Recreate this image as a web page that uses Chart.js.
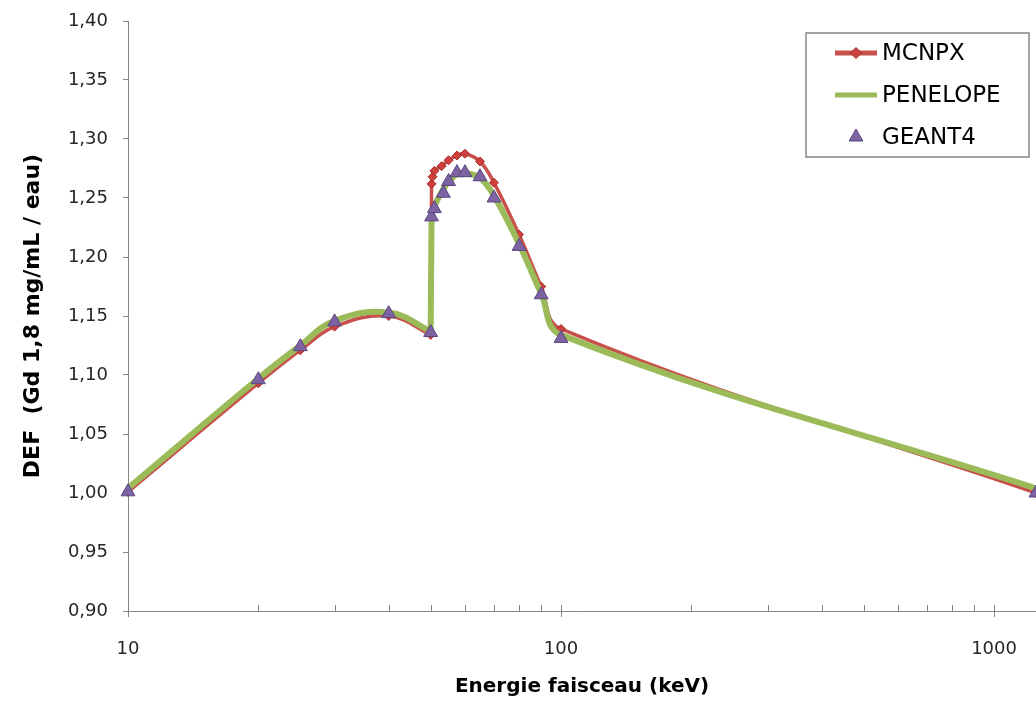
<!DOCTYPE html>
<html>
<head>
<meta charset="utf-8">
<script src="https://cdn.jsdelivr.net/npm/chart.js@4/dist/chart.umd.min.js"></script>
<style>
  html, body { margin: 0; padding: 0; background: #ffffff; }
  #wrap { width: 1036px; height: 701px; position: relative; }
</style>
</head>
<body>
<div id="wrap"><canvas id="c" width="1036" height="701"></canvas></div>
<script>
// ---- data ----
const mcnpxEnergy = [10, 20, 25, 30, 40, 50, 50.24, 50.5, 51, 53, 55, 57.5, 60, 65, 70, 80, 90, 100, 1250];
const mcnpxDEF    = [1.001, 1.093, 1.121, 1.141, 1.150, 1.134, 1.262, 1.268, 1.273, 1.277, 1.282, 1.286, 1.2875, 1.281, 1.263, 1.219, 1.175, 1.139, 1.000];

const penelopeEnergy = [10, 20, 25, 30, 40, 50, 50.24, 51, 53, 55, 57.5, 60, 65, 70, 80, 90, 100, 1250];
const penelopeDEF    = [1.004, 1.097, 1.125, 1.146, 1.153, 1.137, 1.234, 1.243, 1.255, 1.264, 1.270, 1.271, 1.267, 1.252, 1.211, 1.169, 1.134, 1.004];

const geant4Energy = [10, 20, 25, 30, 40, 50, 50.24, 51, 53.5, 55, 57.5, 60, 65, 70, 80, 90, 100, 1250];
const geant4DEF    = [1.001, 1.096, 1.124, 1.145, 1.152, 1.136, 1.234, 1.241, 1.254, 1.264, 1.2715, 1.2715, 1.268, 1.250, 1.209, 1.168, 1.131, 1.000];

const xTickValues  = [10, 20, 30, 40, 50, 60, 70, 80, 90, 100, 200, 300, 400, 500, 600, 700, 800, 900, 1000];
const xTickLabels  = [10, 100, 1000];
const yTickValues  = [0.90, 0.95, 1.00, 1.05, 1.10, 1.15, 1.20, 1.25, 1.30, 1.35, 1.40];

const seriesNames = ['MCNPX', 'PENELOPE', 'GEANT4'];
const xTitle = 'Energie faisceau (keV)';
const yTitle = 'DEF  (Gd 1,8 mg/mL / eau)';

const toXY = (xs, ys) => xs.map((x, i) => ({ x: x, y: ys[i] }));

const AXIS = '#868686';

// keep the near-vertical K-edge jump straight (no spline overshoot there)
const straightEdges = {
  id: 'straightEdges',
  beforeDatasetDraw(chart, args) {
    const line = args.meta.dataset;
    if (!line || !line.points || line.points.length < 3 || !line.options.tension) return;
    line.updateControlPoints(chart.chartArea, 'x');
    const pts = line.points;
    for (let i = 0; i < pts.length - 1; i++) {
      const a = pts[i], b = pts[i + 1];
      if (Math.abs(b.x - a.x) < 4 && Math.abs(b.y - a.y) > 30) {
        a.cp2x = a.x; a.cp2y = a.y;
        b.cp1x = b.x; b.cp1y = b.y;
        if (i > 0) { const p = pts[i - 1]; a.cp1x = a.x + (p.x - a.x) / 3; a.cp1y = a.y + (p.y - a.y) / 3; }
        if (i + 2 < pts.length) { const n = pts[i + 2]; b.cp2x = b.x + (n.x - b.x) / 3; b.cp2y = b.y + (n.y - b.y) / 3; }
      }
    }
  }
};

// x-axis tick marks: major ticks cross the axis, minor ticks point inward
const xTickMarks = {
  id: 'xTickMarks',
  afterDraw(chart) {
    const xs = chart.scales.x;
    const ctx = chart.ctx;
    const yAxis = chart.chartArea.bottom;
    ctx.save();
    ctx.strokeStyle = AXIS;
    ctx.lineWidth = 1;
    xs.ticks.forEach(t => {
      const px = Math.round(xs.getPixelForValue(t.value)) + 0.5;
      const major = xTickLabels.includes(t.value);
      ctx.beginPath();
      ctx.moveTo(px, yAxis - 6);
      ctx.lineTo(px, major ? yAxis + 6 : yAxis);
      ctx.stroke();
    });
    ctx.restore();
  }
};

function drawMarker(ctx, style, r, x, y, fill, stroke, bw) {
  ctx.save();
  ctx.fillStyle = fill; ctx.strokeStyle = stroke; ctx.lineWidth = bw;
  ctx.beginPath();
  if (style === 'triangle') {
    let rad = 0;
    ctx.moveTo(x + Math.sin(rad) * r, y - Math.cos(rad) * r);
    rad += 2 * Math.PI / 3;
    ctx.lineTo(x + Math.sin(rad) * r, y - Math.cos(rad) * r);
    rad += 2 * Math.PI / 3;
    ctx.lineTo(x + Math.sin(rad) * r, y - Math.cos(rad) * r);
  } else {
    ctx.moveTo(x, y - r); ctx.lineTo(x + r, y); ctx.lineTo(x, y + r); ctx.lineTo(x - r, y);
  }
  ctx.closePath();
  ctx.fill();
  if (bw > 0) ctx.stroke();
  ctx.restore();
}

// boxed legend inside the plot area
const boxLegend = {
  id: 'boxLegend',
  afterDraw(chart, args, o) {
    const ctx = chart.ctx;
    ctx.save();
    ctx.fillStyle = '#ffffff';
    ctx.fillRect(o.x, o.y, o.w, o.h);
    ctx.strokeStyle = AXIS;
    ctx.lineWidth = 1.5;
    ctx.strokeRect(o.x, o.y, o.w, o.h);
    chart.data.datasets.forEach((ds, i) => {
      const cy = o.y + o.first + i * o.gap;
      const x0 = o.x + o.lineStart, x1 = x0 + o.lineLen, cx = (x0 + x1) / 2;
      if (ds.showLine !== false) {
        ctx.strokeStyle = ds.borderColor;
        ctx.lineWidth = o.lineWidth;
        ctx.beginPath(); ctx.moveTo(x0, cy); ctx.lineTo(x1, cy); ctx.stroke();
      }
      if (ds.pointRadius > 0) {
        drawMarker(ctx, ds.pointStyle, ds.pointRadius + (ds.pointStyle === 'triangle' ? 0 : 1), cx, cy,
                   ds.pointBackgroundColor, ds.pointBorderColor, ds.pointBorderWidth);
      }
      ctx.fillStyle = '#000000';
      ctx.font = o.font;
      ctx.textAlign = 'left';
      ctx.textBaseline = 'middle';
      ctx.fillText(ds.label, x1 + o.textGap, cy + 1);
    });
    ctx.restore();
  }
};

new Chart(document.getElementById('c'), {
  type: 'line',
  data: {
    datasets: [
      {
        label: seriesNames[0],
        data: toXY(mcnpxEnergy, mcnpxDEF),
        borderColor: '#C8504B',
        borderWidth: 3.5,
        pointStyle: 'rectRot',
        pointRadius: 4.5,
        pointBackgroundColor: '#D0403C',
        pointBorderColor: '#A0302C',
        pointBorderWidth: 1,
        tension: 0.4,
        order: 2,
        clip: false
      },
      {
        label: seriesNames[1],
        data: toXY(penelopeEnergy, penelopeDEF),
        borderColor: '#9BBB59',
        borderWidth: 6,
        pointRadius: 0,
        tension: 0.4,
        order: 1,
        clip: false
      },
      {
        label: seriesNames[2],
        data: toXY(geant4Energy, geant4DEF),
        showLine: false,
        pointStyle: 'triangle',
        pointRadius: 8,
        pointBackgroundColor: '#7E63A3',
        pointBorderColor: '#5A4680',
        pointBorderWidth: 1,
        borderColor: '#7E63A3',
        order: 0,
        clip: false
      }
    ]
  },
  options: {
    responsive: false,
    animation: false,
    devicePixelRatio: 1,
    layout: { autoPadding: false, padding: { top: 21, right: 0, left: 0, bottom: 0 } },
    plugins: {
      legend: { display: false },
      tooltip: { enabled: false },
      boxLegend: {
        x: 806, y: 33, w: 223, h: 124,
        first: 20, gap: 42,
        lineStart: 29, lineLen: 42, lineWidth: 5, textGap: 5,
        font: '23px "DejaVu Sans"'
      }
    },
    scales: {
      x: {
        type: 'logarithmic',
        min: 10,
        max: 1250,
        bounds: 'data',
        afterBuildTicks: s => { s.ticks = xTickValues.map(v => ({ value: v, major: xTickLabels.includes(v) })); },
        afterFit: s => { s.height = 90; s.paddingLeft = 0; s.paddingRight = 0; },
        grid: { display: false, drawTicks: false, tickLength: 0 },
        border: { display: true, color: AXIS, width: 1 },
        ticks: {
          autoSkip: false,
          maxRotation: 0,
          padding: 28,
          color: '#262626',
          font: { family: 'DejaVu Sans', size: 18 },
          callback: v => xTickLabels.includes(v) ? String(v) : ''
        },
        title: {
          display: true,
          text: xTitle,
          color: '#000000',
          font: { family: 'DejaVu Sans', size: 20, weight: 'bold' },
          padding: { top: 0, bottom: 2 }
        }
      },
      y: {
        type: 'linear',
        min: 0.9,
        max: 1.4,
        afterBuildTicks: s => { s.ticks = yTickValues.map(v => ({ value: v })); },
        afterFit: s => { s.width = 128; s.paddingTop = 0; s.paddingBottom = 0; },
        grid: { display: true, drawOnChartArea: false, drawTicks: true, tickLength: 5, color: AXIS },
        border: { display: true, color: AXIS, width: 1 },
        ticks: {
          padding: 15,
          color: '#262626',
          font: { family: 'DejaVu Sans', size: 18 },
          callback: v => Number(v).toFixed(2).replace('.', ',')
        },
        title: {
          display: true,
          text: yTitle,
          color: '#000000',
          font: { family: 'DejaVu Sans', size: 22, weight: 'bold' },
          padding: { top: 20, bottom: 0 }
        }
      }
    }
  },
  plugins: [straightEdges, xTickMarks, boxLegend]
});
</script>
</body>
</html>
